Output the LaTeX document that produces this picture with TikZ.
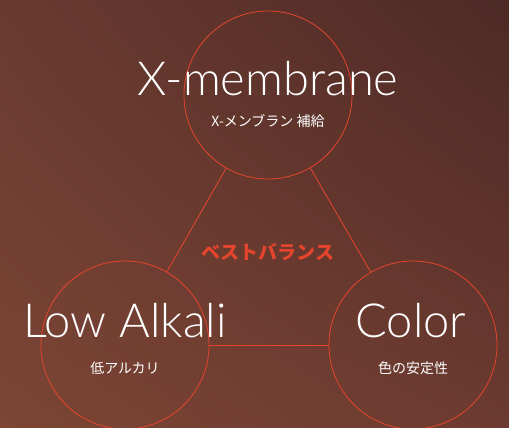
\documentclass[tikz,border=0pt]{standalone}
\usepackage{fontspec}
\setmainfont{Lato}[UprightFont=* Light]
\newfontfamily\jpfont{Noto Sans CJK JP}
\usetikzlibrary{positioning,shadings}
\definecolor{ringred}{HTML}{E4452C}
\definecolor{bgtl}{HTML}{6A3A30}
\definecolor{bgtr}{HTML}{4C2A25}
\definecolor{bgbl}{HTML}{7C4535}
\definecolor{bgbr}{HTML}{6C3A30}

\begin{document}
\begin{tikzpicture}[x=1pt,y=-1pt,
        ring/.style={circle,draw=ringred,line width=0.8pt,minimum size=168pt,inner sep=0pt},
        bigtext/.style={text=white,font=\fontsize{47}{47}\selectfont},
        smalltext/.style={text=white,font=\jpfont\fontsize{14}{14}\selectfont},
        link/.style={draw=ringred,line width=0.8pt}]
        \shade[upper left=bgtl,upper right=bgtr,lower left=bgbl,lower right=bgbr] (0,0) rectangle (509,428);
        \useasboundingbox (0,0) rectangle (509,428);
        % the three rings
        \node[ring] (mem) at (268,95) {};
        \node[ring] (alk) at (125,345) {};
        \node[ring] (col) at (413,345) {};
        \draw[link] (mem) -- (alk);
        \draw[link] (mem) -- (col);
        \draw[link] (alk) -- (col);
        % labels
        \node[bigtext] (memtxt) at (268,79) {X-membrane};
        \node[smalltext] (memsub) at (268,121) {X-メンブラン\ 補給};
        \node[bigtext] (alktxt) at (125,321) {Low Alkali};
        \node[smalltext] (alksub) at (125,368) {低アルカリ};
        \node[bigtext] (coltxt) at (411,321) {Color};
        \node[smalltext] (colsub) at (413,368) {色の安定性};
        \node[text=ringred,font=\jpfont\bfseries\fontsize{19}{19}\selectfont] (best) at (268,252) {ベストバランス};
\end{tikzpicture}
\end{document}
